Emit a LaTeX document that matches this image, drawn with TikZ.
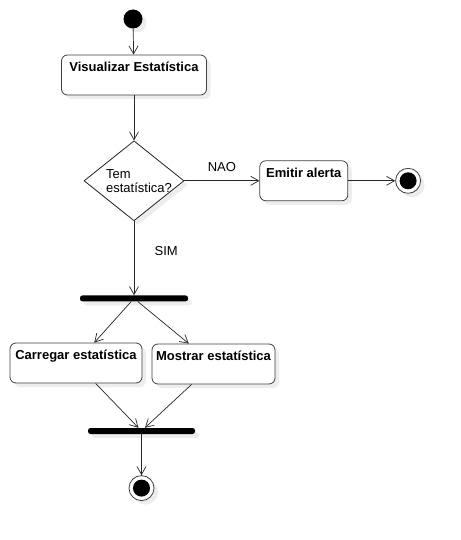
\documentclass[tikz,border=0pt]{standalone}
\usepackage{fontspec}
\setmainfont{Liberation Sans}
\usetikzlibrary{arrows.meta, positioning, shapes.geometric, shadows}

\begin{document}
\begin{tikzpicture}[x=1pt, y=-1pt, >={Straight Barb[length=8pt, width=9pt]},
    every node/.style={font=\fontsize{13}{14}\selectfont},
    shadowed/.style={drop shadow={opacity=0.14, shadow xshift=4pt, shadow yshift=-4pt}},
    activity/.style={draw=black!75, line width=0.8pt, fill=white, rounded corners=6pt, shadowed,
        font=\fontsize{13}{14}\selectfont\bfseries, inner xsep=3pt, inner ysep=4pt,
        text height=12.5pt, text depth=19.5pt},
    decision/.style={diamond, draw=black!85, line width=0.8pt, fill=white, shadowed,
        inner sep=0pt, minimum width=100pt, minimum height=80pt},
    startnode/.style={circle, fill=black, shadowed, inner sep=0pt, minimum size=19pt},
    endnode/.style={circle, draw=black!75, line width=0.8pt, fill=white, shadowed, inner sep=0pt,
        minimum size=25pt, path picture={\fill[black] (path picture bounding box.center) circle (8.5pt);}},
    bar/.style={rectangle, fill=black, rounded corners=2.5pt, shadowed, inner sep=0pt, minimum height=6pt},
    flow/.style={->, draw=black!85, line width=0.7pt}]
    \useasboundingbox (0,0) rectangle (460,540);
    % Nodes
    \node[startnode] (start) at (133,19) {};
    \node[activity, minimum width=145pt] (visualizar) at (134,75) {Visualizar Estatística};
    \node[decision, below=45pt of visualizar,
        label={[name=pergunta, align=left, xshift=5pt]center:Tem\\estatística?}] (temest) {};
    \node[activity, minimum width=88pt, right=75pt of temest] (emitir) {Emitir alerta};
    \node[endnode, right=47pt of emitir] (fim1) {};
    \node[bar, minimum width=108pt, below=74pt of temest] (fork) {};
    \node[activity, minimum width=132pt] (carregar) at (76,363) {Carregar estatística};
    \node[activity, minimum width=123pt] (mostrar) at (213.5,364) {Mostrar estatística};
    \node[bar, minimum width=107pt] (join) at (141.5,431) {};
    \node[endnode, below=41pt of join] (fim2) {};

    % Edges
    \draw[flow] (start) -- (visualizar);
    \draw[flow] (visualizar) -- (temest);
    \draw[flow] (temest) -- node[above=5pt] (nao) {NAO} (emitir);
    \draw[flow] (emitir) -- (fim1);
    \draw[flow] (temest) -- node[pos=0.4, right=17pt] (sim) {SIM} (fork);
    \draw[flow] (fork) -- (carregar);
    \draw[flow] (fork) -- (mostrar);
    \draw[flow] (carregar) -- (join);
    \draw[flow] (mostrar) -- (join);
    \draw[flow] (join) -- (fim2);
\end{tikzpicture}
\end{document}
